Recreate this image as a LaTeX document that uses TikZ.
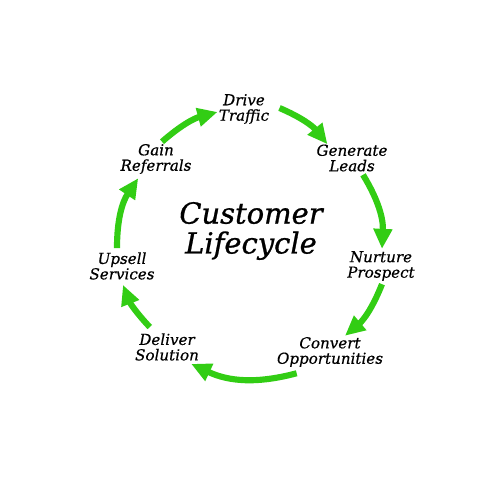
\documentclass[tikz,border=0pt]{standalone}
\usepackage{fontspec}
\setmainfont{DejaVu Serif}
\newfontfamily\stagefont[FakeBold=0.5]{DejaVu Serif}
\newfontfamily\headfont[FakeBold=0.9]{DejaVu Serif}
\usetikzlibrary{arrows.meta}
\definecolor{cyclegreen}{RGB}{50,205,20}

\begin{document}
\begin{tikzpicture}[
	x=0.02cm,
	y=-0.02cm,
	stage/.style={
		inner sep=0pt,
		align=center,
		font=\stagefont\fontsize{8.6}{8.8}\selectfont\itshape
	},
	heading/.style={
		inner sep=0pt,
		align=center,
		font=\headfont\fontsize{16.5}{17}\selectfont\itshape
	},
	flow/.style={
		draw=cyclegreen,
		line width=3.5pt,
		-{Triangle[length=4mm,width=3.6mm]}
	}
]

\useasboundingbox (0,0) rectangle (500,500);

% Title
\node [heading] (Title) at (251,231) {Customer\\Lifecycle};

% Stages
\node [stage] (Drive) at (244,109) {Drive\\Traffic};
\node [stage] (Leads) at (352,158) {Generate\\Leads};
\node [stage] (Nurture) at (381,266) {Nurture\\Prospect};
\node [stage] (Convert) at (330,352) {Convert\\Opportunities};
\node [stage] (Deliver) at (167,347) {Deliver\\Solution};
\node [stage] (Upsell) at (122,266) {Upsell\\Services};
\node [stage] (Gain) at (156,159) {Gain\\Referrals};

% Arrows
\draw [flow] ([shift={(10,-1)}]Drive.east) to[bend left=14] ([xshift=-14]Leads.north);
\draw [flow] ([shift={(11,3)}]Leads.south) to[bend left=17] ([shift={(1,-2)}]Nurture.north);
\draw [flow] ([shift={(1,3)}]Nurture.south) to[bend left=14] ([shift={(15,-1)}]Convert.north);
\draw [flow] ([shift={(20,6)}]Convert.south west) to[bend left=20] ([shift={(-8,3)}]Deliver.south east);
\draw [flow] ([shift={(15,-6)}]Deliver.north west) to[bend left=11] ([shift={(1,5)}]Upsell.south);
\draw [flow] ([shift={(-5,-4)}]Upsell.north) to[bend left=17] ([shift={(18,4)}]Gain.south west);
\draw [flow] ([shift={(6,-2)}]Gain.north) to[bend left=13] ([shift={(-1,3)}]Drive.west);

\end{tikzpicture}
\end{document}
